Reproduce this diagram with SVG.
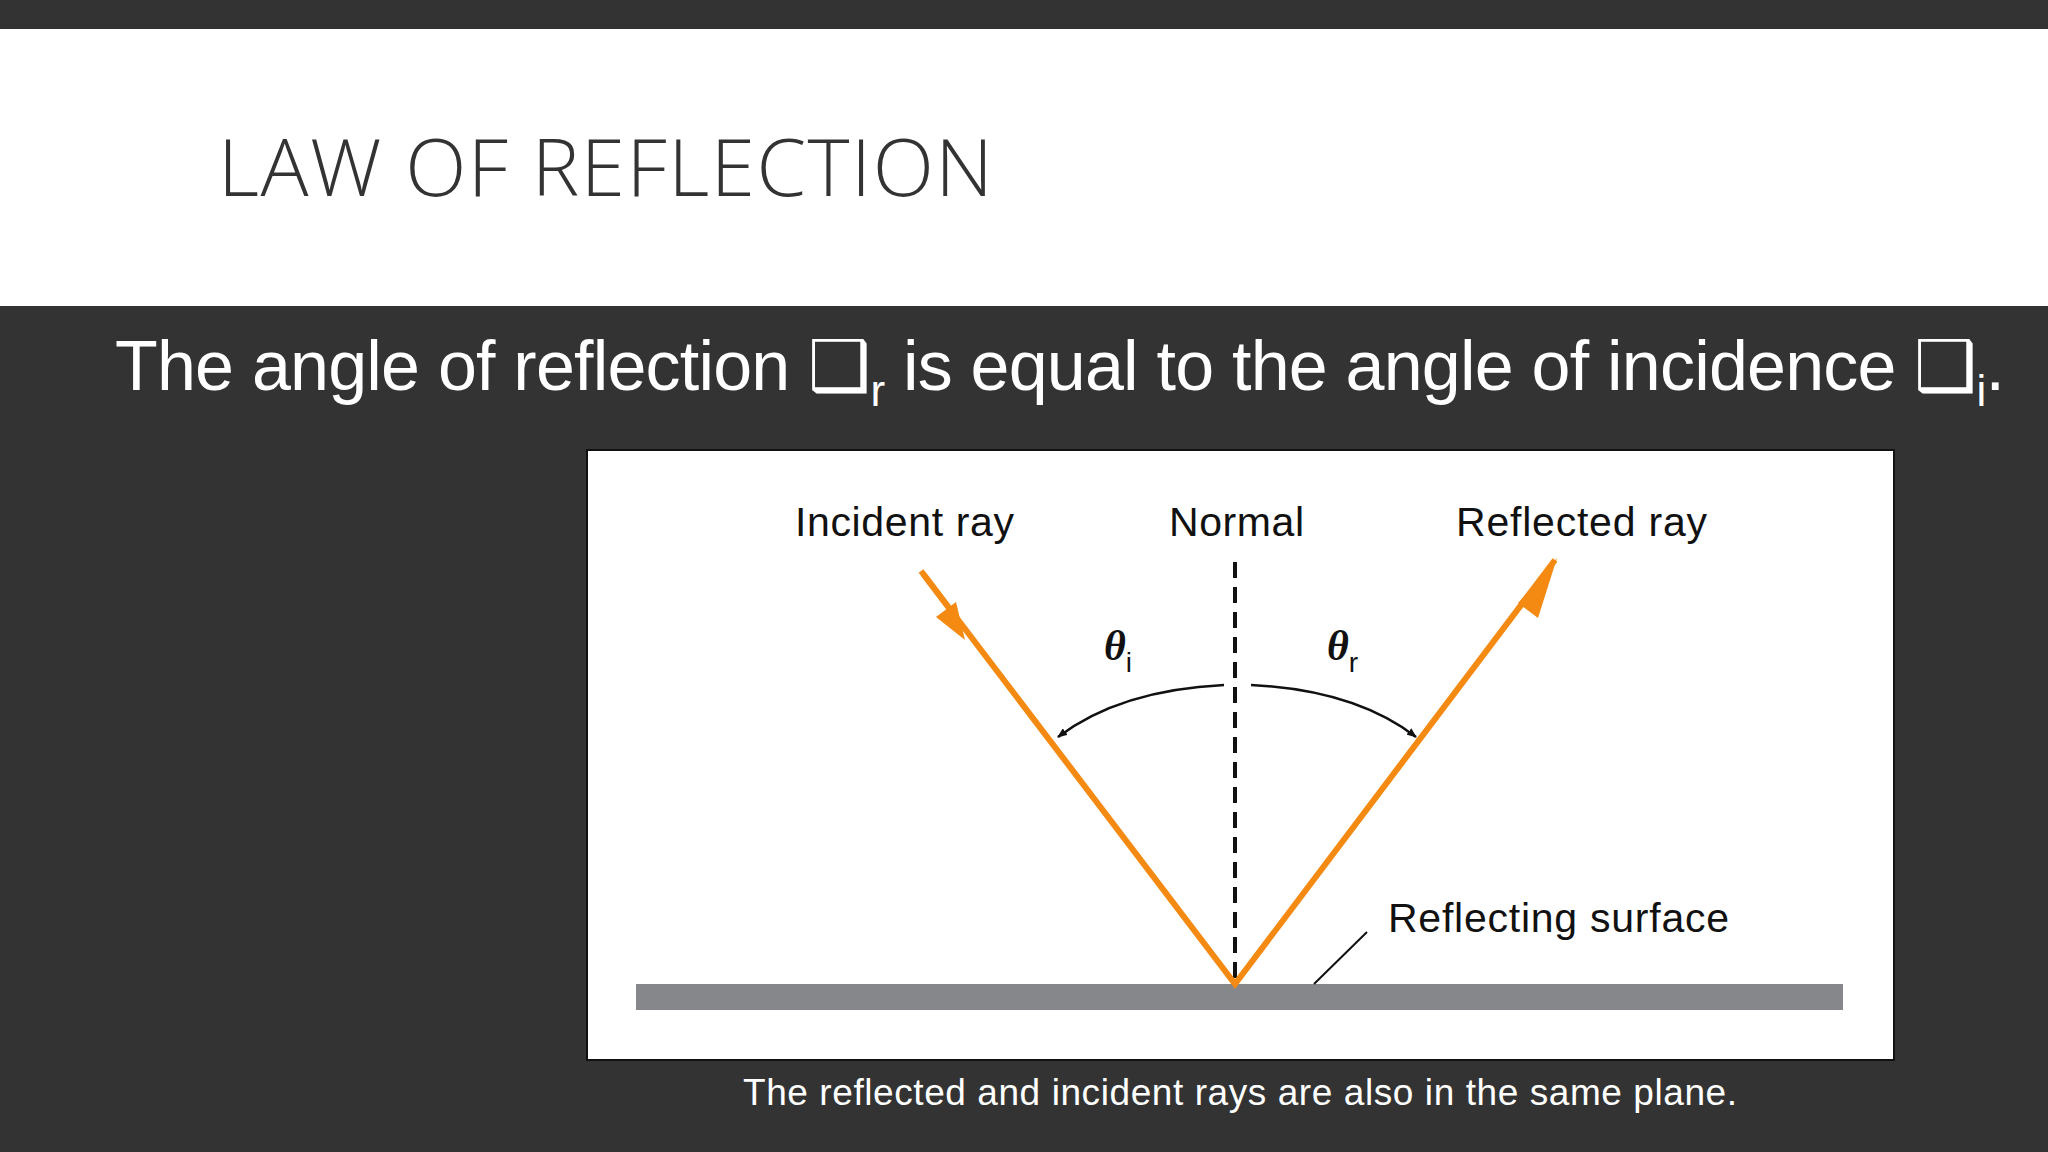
<svg xmlns="http://www.w3.org/2000/svg" width="2048" height="1152" viewBox="0 0 2048 1152">
<defs>
<style>
.lbl{font-family:"Liberation Sans",Arial,sans-serif;font-size:41px;fill:#111}
.th{font-family:"Liberation Serif",serif;font-style:italic;font-weight:bold;font-size:42px;fill:#111}
.sub{font-family:"Liberation Sans",Arial,sans-serif;font-size:28px;fill:#111}
.ray{stroke:#F48A12;stroke-width:6;fill:none}
</style>
<marker id="ah" markerWidth="10" markerHeight="8" refX="9" refY="4" orient="auto" markerUnits="userSpaceOnUse" viewBox="0 0 10 8"><path d="M0,0 L10,4 L0,8 z" fill="#111"/></marker>
</defs>
<rect width="2048" height="1152" fill="#333333"/>
<rect x="0" y="29" width="2048" height="277" fill="#ffffff"/>
<text x="218" y="196" font-family="'Open Sans',sans-serif" font-weight="300" font-size="80" fill="#333" textLength="775">LAW OF REFLECTION</text>
<text x="115" y="390" font-family="'Liberation Sans',Arial,sans-serif" font-size="70" fill="#fff" textLength="1890">The angle of reflection ❑<tspan font-size="44" dy="16">r</tspan><tspan dy="-16"> is equal to the angle of incidence ❑</tspan><tspan font-size="44" dy="16">i</tspan><tspan dy="-16">.</tspan></text>
<g id="panel">
<rect x="587" y="450" width="1307" height="610" fill="#fff" stroke="#111" stroke-width="2"/>
</g>
<g id="surface"><rect x="636" y="984" width="1207" height="26" fill="#86878a"/></g>
<g id="labels">
<text class="lbl" x="795" y="536" textLength="219">Incident ray</text>
<text class="lbl" x="1169" y="536" textLength="135">Normal</text>
<text class="lbl" x="1456" y="536" textLength="251">Reflected ray</text>
<text class="lbl" x="1388" y="932" textLength="341">Reflecting surface</text>
<text class="th" x="1104" y="660">θ<tspan class="sub" font-style="normal" font-weight="normal" dy="12">i</tspan></text>
<text class="th" x="1327" y="660">θ<tspan class="sub" font-style="normal" font-weight="normal" dy="12">r</tspan></text>
</g>
<g id="connectors">
<line x1="1235" y1="562" x2="1235" y2="984" stroke="#111" stroke-width="4" stroke-dasharray="16,9"/>
<path class="ray" d="M921,571 L1235,984 L1555,560"/>
<path d="M924,575 L955,616" class="ray"/>
<polygon points="965,640 936,617 956,602" fill="#F48A12"/>
<polygon points="1557,558 1518,603 1538,618" fill="#F48A12"/>
<path d="M1224,685 Q1120,690 1058,737" stroke="#111" stroke-width="2.5" fill="none" marker-end="url(#ah)"/>
<path d="M1251,685 Q1355,690 1416,737" stroke="#111" stroke-width="2.5" fill="none" marker-end="url(#ah)"/>
<line x1="1367" y1="932" x2="1314" y2="984" stroke="#111" stroke-width="2"/>
</g>
<text x="743" y="1105" font-family="'Liberation Sans',Arial,sans-serif" font-size="37" fill="#fff" textLength="994">The reflected and incident rays are also in the same plane.</text>
</svg>
